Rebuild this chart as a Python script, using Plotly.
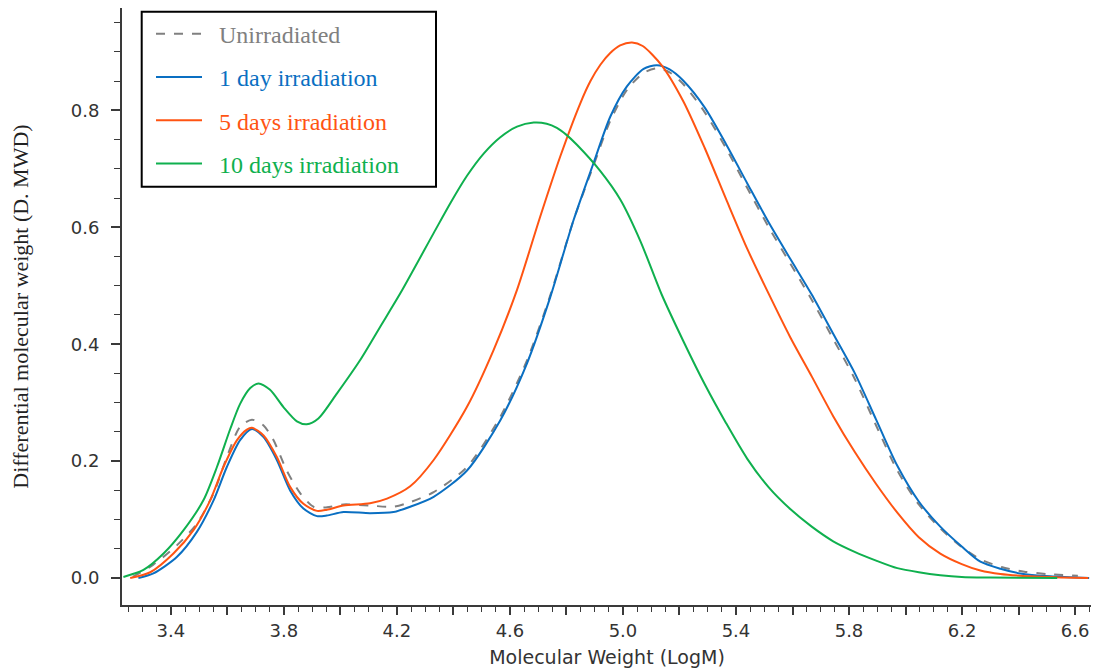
import plotly.graph_objects as go

# ---- data ----
unirr_x = [3.265, 3.338, 3.421, 3.492, 3.551, 3.598, 3.645, 3.687, 3.728, 3.763, 3.810, 3.858, 3.905,
           3.952, 4.011, 4.105, 4.188, 4.247, 4.330, 4.448, 4.566, 4.660, 4.743, 4.825, 4.896, 4.955,
           5.014, 5.073, 5.120, 5.165, 5.213, 5.289, 5.365, 5.440, 5.516, 5.592, 5.668, 5.744, 5.820,
           5.896, 5.971, 6.047, 6.123, 6.199, 6.270, 6.340, 6.420, 6.500, 6.610]
unirr_y = [0.002, 0.023, 0.056, 0.093, 0.145, 0.207, 0.259, 0.271, 0.261, 0.236, 0.184, 0.145, 0.122,
           0.121, 0.126, 0.124, 0.122, 0.130, 0.147, 0.190, 0.276, 0.372, 0.484, 0.612, 0.706, 0.782,
           0.835, 0.864, 0.872, 0.865, 0.845, 0.797, 0.735, 0.667, 0.600, 0.538, 0.476, 0.409, 0.341,
           0.261, 0.184, 0.126, 0.085, 0.053, 0.031, 0.019, 0.011, 0.007, 0.004]

day1_x = [3.285, 3.338, 3.421, 3.492, 3.551, 3.598, 3.645, 3.687, 3.728, 3.775, 3.822, 3.869, 3.917,
          3.952, 4.011, 4.105, 4.188, 4.247, 4.330, 4.448, 4.566, 4.660, 4.743, 4.825, 4.896, 4.955,
          5.014, 5.073, 5.120, 5.165, 5.213, 5.289, 5.365, 5.440, 5.516, 5.592, 5.668, 5.744, 5.820,
          5.896, 5.971, 6.047, 6.123, 6.199, 6.265, 6.336, 6.406, 6.512, 6.650]
day1_y = [0.000, 0.008, 0.036, 0.079, 0.133, 0.190, 0.236, 0.255, 0.241, 0.202, 0.150, 0.119, 0.106,
          0.107, 0.113, 0.111, 0.113, 0.122, 0.139, 0.184, 0.270, 0.367, 0.481, 0.612, 0.710, 0.789,
          0.841, 0.871, 0.877, 0.870, 0.851, 0.805, 0.742, 0.675, 0.608, 0.546, 0.485, 0.418, 0.351,
          0.271, 0.192, 0.131, 0.088, 0.054, 0.028, 0.016, 0.008, 0.003, 0.000]

day5_x = [3.256, 3.327, 3.409, 3.480, 3.539, 3.586, 3.634, 3.669, 3.687, 3.728, 3.775, 3.822, 3.869,
          3.917, 3.952, 4.011, 4.105, 4.165, 4.247, 4.330, 4.448, 4.542, 4.625, 4.707, 4.778, 4.849,
          4.885, 4.920, 4.955, 4.990, 5.032, 5.070, 5.137, 5.213, 5.289, 5.365, 5.440, 5.516, 5.592,
          5.668, 5.744, 5.820, 5.896, 5.971, 6.047, 6.123, 6.199, 6.265, 6.336, 6.442, 6.549, 6.647]
day5_y = [0.000, 0.010, 0.042, 0.082, 0.133, 0.190, 0.236, 0.254, 0.257, 0.244, 0.207, 0.156, 0.127,
          0.115, 0.117, 0.124, 0.128, 0.136, 0.157, 0.202, 0.293, 0.390, 0.493, 0.618, 0.721, 0.812,
          0.850, 0.878, 0.898, 0.911, 0.916, 0.910, 0.877, 0.816, 0.736, 0.648, 0.563, 0.486, 0.412,
          0.345, 0.277, 0.216, 0.161, 0.112, 0.070, 0.042, 0.024, 0.013, 0.007, 0.003, 0.001, 0.000]

day10_x = [3.232, 3.303, 3.374, 3.445, 3.515, 3.563, 3.610, 3.645, 3.681, 3.710, 3.751, 3.799, 3.846,
           3.881, 3.922, 3.988, 4.070, 4.141, 4.212, 4.330, 4.390, 4.448, 4.507, 4.566, 4.625, 4.684,
           4.730, 4.766, 4.800, 4.837, 4.920, 4.991, 5.062, 5.137, 5.213, 5.289, 5.365, 5.440, 5.516,
           5.592, 5.668, 5.744, 5.820, 5.896, 5.971, 6.047, 6.123, 6.199, 6.300, 6.537]
day10_y = [0.002, 0.014, 0.042, 0.082, 0.133, 0.190, 0.255, 0.298, 0.325, 0.333, 0.322, 0.292, 0.268,
           0.263, 0.273, 0.316, 0.373, 0.430, 0.487, 0.590, 0.642, 0.688, 0.726, 0.754, 0.772, 0.779,
           0.777, 0.770, 0.758, 0.741, 0.696, 0.647, 0.576, 0.485, 0.406, 0.332, 0.265, 0.204, 0.155,
           0.118, 0.088, 0.063, 0.045, 0.030, 0.017, 0.010, 0.005, 0.002, 0.001, 0.000]

series = [
    ("Unirradiated", unirr_x, unirr_y, "#808080", "dash"),
    ("1 day irradiation", day1_x, day1_y, "#0A6FC2", "solid"),
    ("5 days irradiation", day5_x, day5_y, "#FF5412", "solid"),
    ("10 days irradiation", day10_x, day10_y, "#0FB04E", "solid"),
]

x_major = [3.4, 3.6, 3.8, 4.0, 4.2, 4.4, 4.6, 4.8, 5.0, 5.2, 5.4, 5.6, 5.8, 6.0, 6.2, 6.4, 6.6]
x_labels = ["3.4", "", "3.8", "", "4.2", "", "4.6", "", "5.0", "", "5.4", "", "5.8", "", "6.2", "", "6.6"]
y_major = [0.0, 0.2, 0.4, 0.6, 0.8]
y_labels = ["0.0", "0.2", "0.4", "0.6", "0.8"]

fig = go.Figure()
for i, (name, xs, ys, col, dash) in enumerate(series):
    fig.add_trace(go.Scatter(
        x=xs, y=ys, mode="lines",
        name=f"<span style='color:{col}'>&nbsp;&nbsp;{name}</span>",
        legendgroup=f"g{i}",
        line=dict(color=col, width=2, dash=dash, shape="spline", smoothing=0.75),
    ))

# the page body adds an 8px offset, so the figure is drawn 8px smaller
OFF = 8
W, H = 1099 - OFF, 671 - OFF
L, R, T, B = 122 - OFF, 7, 8 - OFF, 66
pw, ph = W - L - R, H - T - B

def px2paper(px, py):
    # screen pixel in the reference -> paper coordinates
    return (px - OFF - L) / pw, 1 - (py - OFF - T) / ph

# legend frame (box in the reference)
bx0, by0 = px2paper(141.7, 11.7)
bx1, by1 = px2paper(436.0, 186.7)
lx, ly = px2paper(151.0, 11.7)

axis_col = "#3a3a3a"
fig.update_layout(
    width=W, height=H, autosize=False,
    margin=dict(l=L, r=R, t=T, b=B),
    paper_bgcolor="white", plot_bgcolor="white",
    font=dict(family="DejaVu Sans", size=18, color="#333333"),
    xaxis=dict(
        range=[3.227, 6.66], showgrid=False, zeroline=False, automargin=False,
        showline=True, linecolor=axis_col, linewidth=2,
        tickmode="array", tickvals=x_major, ticktext=x_labels,
        ticks="outside", ticklen=8, tickwidth=1.5, tickcolor=axis_col,
        minor=dict(tickmode="linear", tick0=3.4, dtick=0.05, ticks="outside",
                   ticklen=5, tickwidth=1, tickcolor=axis_col),
        title=dict(text="Molecular Weight (LogM)", font=dict(family="DejaVu Sans", size=19, color="#333333"),
                   standoff=11),
    ),
    yaxis=dict(
        range=[-0.046, 0.975], showgrid=False, zeroline=False, automargin=False,
        showline=True, linecolor=axis_col, linewidth=2,
        tickmode="array", tickvals=y_major, ticktext=y_labels,
        ticks="outside", ticklen=9, tickwidth=1.5, tickcolor=axis_col, ticklabelstandoff=8,
        minor=dict(tickmode="linear", tick0=0, dtick=0.05, ticks="outside",
                   ticklen=6, tickwidth=1, tickcolor=axis_col),
        title=dict(text="Differential molecular weight (D. MWD)",
                   font=dict(family="Liberation Serif", size=22, color="#222222"), standoff=40),
    ),
    shapes=[dict(type="rect", xref="paper", yref="paper", x0=bx0, y0=by1, x1=bx1, y1=by0,
                 line=dict(color="black", width=2), fillcolor="white", layer="above")],
    legend=dict(
        x=lx, y=ly, xanchor="left", yanchor="top",
        bgcolor="rgba(0,0,0,0)", borderwidth=0,
        font=dict(family="Liberation Serif", size=24),
        traceorder="grouped", tracegroupgap=9, itemwidth=46,
    ),
    showlegend=True,
)

fig.write_html("out.html")
